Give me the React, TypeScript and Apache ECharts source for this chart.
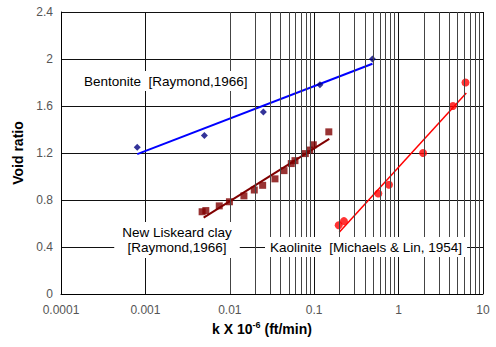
import React, { useEffect, useRef } from "react";
import * as echarts from "echarts";

// ---- Data ----
const bentoniteK = [0.0008, 0.005, 0.025, 0.117, 0.49];
const bentoniteE = [1.25, 1.35, 1.55, 1.78, 2.0];
const bentoniteFitK = [0.0008, 0.49];
const bentoniteFitE = [1.19, 1.96];

const liskeardK = [0.0047, 0.0052, 0.0075, 0.0099, 0.0147, 0.0195, 0.0245, 0.0343, 0.0439, 0.0535, 0.0592, 0.0785, 0.0885, 0.0976, 0.149];
const liskeardE = [0.70, 0.71, 0.75, 0.785, 0.835, 0.885, 0.925, 0.98, 1.05, 1.11, 1.135, 1.195, 1.225, 1.27, 1.38];
const liskeardFitK = [0.0049, 0.151];
const liskeardFitE = [0.65, 1.32];

const kaoliniteK = [0.195, 0.225, 0.575, 0.77, 1.95, 4.4, 6.2];
const kaoliniteE = [0.585, 0.62, 0.855, 0.93, 1.2, 1.6, 1.8];
const kaoliniteFitK = [0.198, 6.34];
const kaoliniteFitE = [0.525, 1.71];

const yTicks = { min: 0, max: 2.4, interval: 0.4 };
const xRange = { min: 0.0001, max: 10 };
const decades = [0.0001, 0.001, 0.01, 0.1, 1];
const minorMultipliers = [2, 3, 4, 5, 6, 7, 8, 9];

const zip = (a: number[], b: number[]) => a.map((v, i) => [v, b[i]]);

export default function App() {
  const ref = useRef<HTMLDivElement>(null);
  useEffect(() => {
    if (!ref.current) return;
    const chart = echarts.init(ref.current, null, { renderer: "svg" });
    const minorLines: any[] = [];
    decades.forEach((d) =>
      minorMultipliers.forEach((m) => minorLines.push({ xAxis: +(d * m).toPrecision(2) }))
    );
    const font = "Liberation Sans, Arial, sans-serif";
    chart.setOption({
      animation: false,
      backgroundColor: "#fff",
      grid: { left: 61, right: 13, top: 12, bottom: 53, containLabel: false },
      xAxis: {
        type: "log",
        logBase: 10,
        min: xRange.min,
        max: xRange.max,
        name: "k X 10{sup|-6} (ft/min)",
        nameLocation: "middle",
        nameGap: 22,
        nameTextStyle: {
          fontFamily: font,
          fontSize: 14,
          fontWeight: "bold",
          color: "#000",
          padding: [0, 20, 0, 0],
          lineHeight: 16,
          rich: {
            sup: { fontSize: 9, fontWeight: "bold", fontFamily: font, color: "#000", verticalAlign: "top", lineHeight: 10 },
          },
        },
        axisLine: { show: true, onZero: false, lineStyle: { color: "#000", width: 1 } },
        axisTick: { show: false },
        axisLabel: {
          margin: 10,
          fontFamily: font,
          fontSize: 12,
          color: "#555",
          formatter: (v: number) => String(+v.toPrecision(1)),
        },
        splitLine: { show: true, lineStyle: { color: "#111", width: 1 } },
      },
      yAxis: {
        type: "value",
        min: yTicks.min,
        max: yTicks.max,
        interval: yTicks.interval,
        name: "Void ratio",
        nameLocation: "middle",
        nameGap: 35,
        nameTextStyle: { fontFamily: font, fontSize: 14, fontWeight: "bold", color: "#000" },
        axisLine: { show: true, onZero: false, lineStyle: { color: "#000", width: 1 } },
        axisTick: { show: false },
        axisLabel: { margin: 8, fontFamily: font, fontSize: 12, color: "#555" },
        splitLine: { show: true, lineStyle: { color: "#111", width: 1 } },
      },
      series: [
        {
          type: "line",
          data: [],
          z: 1,
          silent: true,
          markLine: {
            silent: true,
            symbol: "none",
            label: { show: false },
            lineStyle: { color: "#444", width: 1, type: "solid" },
            data: minorLines,
          },
        },
        {
          name: "Bentonite fit",
          type: "line",
          data: zip(bentoniteFitK, bentoniteFitE),
          showSymbol: false,
          lineStyle: { color: "#0000ff", width: 2 },
          z: 3,
        },
        {
          name: "Bentonite",
          type: "scatter",
          data: zip(bentoniteK, bentoniteE),
          symbol: "diamond",
          symbolSize: 7,
          itemStyle: { color: "#000080" },
          z: 4,
        },
        {
          name: "Liskeard fit",
          type: "line",
          data: zip(liskeardFitK, liskeardFitE),
          showSymbol: false,
          lineStyle: { color: "#800000", width: 2 },
          z: 3,
        },
        {
          name: "New Liskeard clay",
          type: "scatter",
          data: zip(liskeardK, liskeardE),
          symbol: "rect",
          symbolSize: 7,
          itemStyle: { color: "#800000" },
          z: 4,
        },
        {
          name: "Kaolinite fit",
          type: "line",
          data: zip(kaoliniteFitK, kaoliniteFitE),
          showSymbol: false,
          lineStyle: { color: "#ff0000", width: 1.5 },
          z: 3,
        },
        {
          name: "Kaolinite",
          type: "scatter",
          data: zip(kaoliniteK, kaoliniteE),
          symbol: "circle",
          symbolSize: 8,
          itemStyle: { color: "#ff0000" },
          z: 4,
        },
      ],
      graphic: [
        {
          type: "text",
          z: 100,
          x: 80,
          y: 71,
          style: {
            text: "Bentonite  [Raymond,1966]",
            fill: "#000",
            font: `13.5px ${font}`,
            backgroundColor: "#fff",
            padding: [3, 4, 3, 4],
          },
        },
        {
          type: "text",
          z: 100,
          x: 177,
          y: 222,
          style: {
            text: "New Liskeard clay\n[Raymond,1966]",
            fill: "#000",
            font: `13.5px ${font}`,
            align: "center",
            verticalAlign: "top",
            lineHeight: 15,
            backgroundColor: "#fff",
            padding: [3, 8, 3, 8],
          },
        },
        {
          type: "text",
          z: 100,
          x: 265,
          y: 237,
          style: {
            text: "Kaolinite  [Michaels & Lin, 1954]",
            fill: "#000",
            font: `13.5px ${font}`,
            backgroundColor: "#fff",
            padding: [3, 5, 3, 5],
          },
        },
      ],
    });
    return () => chart.dispose();
  }, []);
  return (
    <div
      ref={ref}
      style={{ position: "fixed", left: 0, top: 0, width: 496, height: 347, background: "#fff" }}
    />
  );
}
